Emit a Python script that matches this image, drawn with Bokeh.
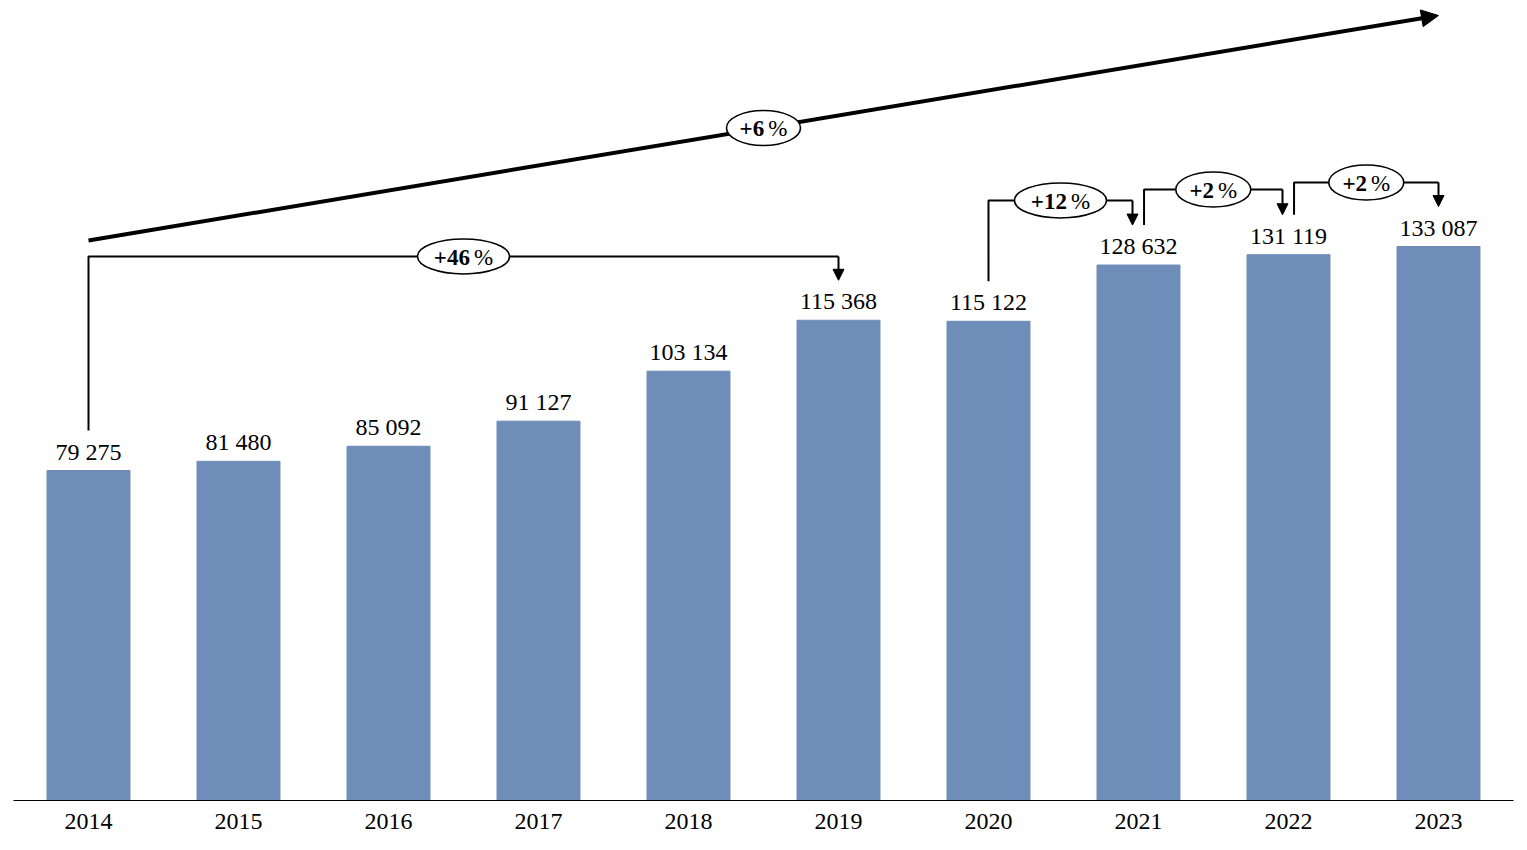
from bokeh.plotting import figure
from bokeh.models import Arrow, NormalHead, Range1d, FixedTicker
from bokeh.core.properties import value
from bokeh.embed import file_html
from bokeh.resources import INLINE

# ---- data ----
years = ["2014", "2015", "2016", "2017", "2018", "2019", "2020", "2021", "2022", "2023"]
values = [79275, 81480, 85092, 91127, 103134, 115368, 115122, 128632, 131119, 133087]
# growth brackets: (from index, to index, label, bracket level in data units)
growth_from = [0, 6, 7, 8]
growth_to = [5, 7, 8, 9]
growth_labels = ["+46", "+12", "+2", "+2"]
growth_levels = [130700, 144140, 146780, 148460]
# overall trend arrow
trend_label = "+6"
trend_y = [134530, 188580]

FONT = "Liberation Serif"
BAR_COLOR = "#6e8db9"
GAP = 9600  # gap above bar tops for bracket ends (data units)

idx = list(range(len(years)))
ymax = 190262

p = figure(width=1527, height=850, x_range=Range1d(-0.5, 9.5), y_range=Range1d(0, ymax),
           output_backend="svg", toolbar_location=None, y_axis_location=None,
           min_border_left=13, min_border_right=14, min_border_top=8, min_border_bottom=50)
p.outline_line_color = None
p.xgrid.visible = False
p.ygrid.visible = False
p.background_fill_color = "white"
p.border_fill_color = "white"

p.vbar(x=idx, top=values, width=0.553, color=BAR_COLOR)

p.text(x=idx, y=values, text=[f"{v:,}".replace(",", " ") for v in values],
       text_align="center", text_baseline="alphabetic", y_offset=-19,
       text_font=value(FONT), text_font_size="24px", text_color="black")

ax = p.xaxis[0]
ax.ticker = FixedTicker(ticks=idx)
ax.major_label_overrides = {i: y for i, y in enumerate(years)}
ax.major_tick_line_color = None
ax.minor_tick_line_color = None
ax.axis_line_color = "black"
ax.axis_line_width = 1
ax.major_label_text_font = FONT
ax.major_label_text_font_size = "24px"
ax.major_label_text_color = "black"
ax.major_label_standoff = 7

starts = set(growth_from)
ends = set(growth_to)

def label_in_ellipse(xc, yc, lab, w):
    fs = 23
    bold_w = fs * (0.57 + 0.5 * (len(lab) - 1))
    gap = 4
    pct_w = fs * 0.833
    total = bold_w + gap + pct_w
    split = -total / 2 + bold_w
    p.ellipse(x=[xc], y=[yc], width=w, height=35, width_units="screen", height_units="screen",
              fill_color="white", line_color="black", line_width=1.6, level="overlay")
    p.text(x=[xc], y=[yc], text=[lab], text_align="right", text_baseline="middle",
           x_offset=split, y_offset=1, text_font=value(FONT), text_font_style="bold",
           text_font_size=f"{fs}px", text_color="black", level="overlay")
    p.text(x=[xc], y=[yc], text=["%"], text_align="left", text_baseline="middle",
           x_offset=split + gap, y_offset=1, text_font=value(FONT),
           text_font_size=f"{fs}px", text_color="black", level="overlay")

# trend arrow
p.add_layout(Arrow(x_start=0, y_start=trend_y[0], x_end=len(years) - 1, y_end=trend_y[1],
                   line_width=4, line_color="black", level="underlay",
                   end=NormalHead(size=17, fill_color="black", line_color="black")))
label_in_ellipse((len(years) - 1) / 2, (trend_y[0] + trend_y[1]) / 2, trend_label, 74)

for a, b, lab, lev in zip(growth_from, growth_to, growth_labels, growth_levels):
    xa = a + (0.037 if a in ends else 0)
    xb = b - (0.04 if b in starts else 0)
    p.line(x=[xa, xa, xb], y=[values[a] + GAP, lev, lev], line_color="black", line_width=2)
    p.add_layout(Arrow(x_start=xb, y_start=lev, x_end=xb, y_end=values[b] + GAP,
                       line_width=2, line_color="black",
                       end=NormalHead(size=11, fill_color="black", line_color="black")))
    w = 92 if len(lab) > 2 else 75
    label_in_ellipse((xa + xb) / 2, lev, lab, w)

open("out.html", "w").write(file_html(p, INLINE))
